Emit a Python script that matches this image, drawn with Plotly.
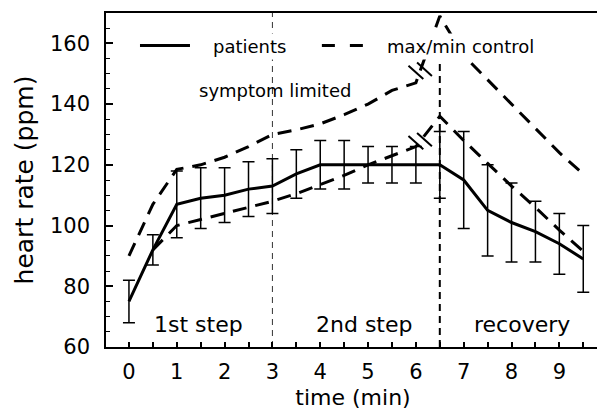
import numpy as np
import plotly.graph_objects as go

# ---- data ----
time_min = [0, 0.5, 1, 1.5, 2, 2.5, 3, 3.5, 4, 4.5, 5, 5.5, 6, 6.5, 7, 7.5, 8, 8.5, 9, 9.5]
patients_hr = [75, 92, 107, 109, 110, 112, 113, 117, 120, 120, 120, 120, 120, 120, 115, 105, 101, 98, 94, 89]
patients_sd = [7, 5, 11, 10, 9, 9, 9, 8, 8, 8, 6, 6, 6, 11, 16, 15, 13, 10, 10, 11]

max_time = [0, 0.5, 1, 1.5, 2, 2.5, 3, 3.5, 4, 4.5, 5, 5.5, 6, 6.5, 7, 7.5, 8, 8.5, 9, 9.5]
max_control = [90, 107, 118.5, 120, 122.5, 126, 130, 131.5, 133.5, 136.5, 140, 144.5, 147, 169, 156, 148, 140, 132, 124, 117]

min_time = [0.5, 1, 1.5, 2, 2.5, 3, 3.5, 4, 4.5, 5, 5.5, 6, 6.5, 7, 7.5, 8, 8.5, 9, 9.5]
min_control = [92, 100, 102, 104, 106, 108, 110.5, 113.5, 116.5, 120, 123, 126, 136, 128, 120.5, 113, 106, 98.5, 91.5]

phase_labels = ["1st step", "2nd step", "recovery"]
phase_centers = [1.45, 4.92, 8.21]
phase_bounds = [3, 6.5]
break_time = 6.09

x_ticks = list(range(0, 10))
y_ticks = [60, 80, 100, 120, 140, 160]

FONT = "DejaVu Sans"
DASH = "14px,9px"

fig = go.Figure()

fig.add_trace(go.Scatter(
    x=max_time, y=max_control, mode="lines", name="max control",
    line=dict(color="black", width=3, dash=DASH), showlegend=False))
fig.add_trace(go.Scatter(
    x=min_time, y=min_control, mode="lines", name="min control",
    line=dict(color="black", width=3, dash=DASH), showlegend=False))
fig.add_trace(go.Scatter(
    x=time_min, y=patients_hr, mode="lines", name="patients",
    line=dict(color="black", width=3),
    error_y=dict(type="data", array=patients_sd, visible=True,
                 color="black", thickness=1.5, width=6),
    showlegend=False))

shapes = []
# phase boundaries
shapes.append(dict(type="line", xref="x", yref="y", x0=phase_bounds[0], x1=phase_bounds[0],
                   y0=60, y1=170, line=dict(color="#333333", width=1, dash="6px,5px"), layer="below"))
shapes.append(dict(type="line", xref="x", yref="y", x0=phase_bounds[1], x1=phase_bounds[1],
                   y0=60, y1=154, line=dict(color="black", width=2, dash="7px,5px"), layer="below"))

# axis-break marks on the control lines (two parallel strokes)
for xs, ys in [(min_time, min_control), (max_time, max_control)]:
    yc = float(np.interp(break_time, xs, ys))
    for s in (-1, 1):
        cx = break_time + s * 0.09
        cy = yc + s * 0.5
        shapes.append(dict(type="line", xref="x", yref="y",
                           x0=cx - 0.155, x1=cx + 0.155,
                           y0=cy + 2.2, y1=cy - 2.2,
                           line=dict(color="black", width=2), layer="above"))

annotations = []
# legend (drawn manually with white background)
annotations.append(dict(xref="paper", yref="paper", x=0.2895, y=0.900, text="patients",
                        xanchor="center", yanchor="middle",
                        showarrow=False, font=dict(family=FONT, size=18, color="black"),
                        bgcolor="white", borderpad=2))
annotations.append(dict(xref="paper", yref="paper", x=0.7166, y=0.900, text="max/min control",
                        xanchor="center", yanchor="middle",
                        showarrow=False, font=dict(family=FONT, size=18, color="black"),
                        bgcolor="white", borderpad=2))
shapes.append(dict(type="line", xref="paper", yref="paper", x0=0.0688, x1=0.170, y0=0.903, y1=0.903,
                   line=dict(color="black", width=3), layer="above"))
shapes.append(dict(type="line", xref="paper", yref="paper", x0=0.437, x1=0.520, y0=0.903, y1=0.903,
                   line=dict(color="black", width=3, dash="13px,15px"), layer="above"))

annotations.append(dict(xref="x", yref="y", x=3.05, y=144.5, text="symptom limited",
                        xanchor="center", yanchor="middle",
                        showarrow=False, font=dict(family=FONT, size=18, color="black")))
for lab, xc in zip(phase_labels, phase_centers):
    annotations.append(dict(xref="x", yref="y", x=xc, y=67.5, text=lab, showarrow=False,
                            xanchor="center", yanchor="middle",
                            font=dict(family=FONT, size=22, color="black")))

# the page body keeps the browser's default 8px margin, so the figure is
# sized 8px smaller to fill the 605x415 window exactly
fig.update_layout(
    width=597, height=407,
    margin=dict(l=98, r=5, t=5, b=68),
    paper_bgcolor="white", plot_bgcolor="white",
    shapes=shapes, annotations=annotations,
    font=dict(family=FONT, color="black"),
    xaxis=dict(range=[-0.48, 9.85], tickvals=x_ticks, ticks="inside", ticklen=5,
               tickwidth=1.5, tickcolor="black", automargin=False,
               minor=dict(dtick=0.5, tick0=0, ticks="inside", ticklen=5, tickwidth=1.5, tickcolor="black"),
               showline=True, linecolor="black", linewidth=1.5, mirror=True,
               showgrid=False, zeroline=False,
               tickfont=dict(family=FONT, size=21, color="black"), ticklabelstandoff=5,
               title=dict(text="time (min)", font=dict(family=FONT, size=22, color="black"), standoff=7)),
    yaxis=dict(range=[60, 170], tickvals=y_ticks, ticks="inside", ticklen=7,
               tickwidth=1.5, tickcolor="black", automargin=False,
               minor=dict(dtick=5, tick0=60, ticks="inside", ticklen=4, tickwidth=1.2, tickcolor="black"),
               showline=True, linecolor="black", linewidth=1.5,
               showgrid=False, zeroline=False,
               tickfont=dict(family=FONT, size=21, color="black"), ticklabelstandoff=10,
               title=dict(text="heart rate (ppm)", font=dict(family=FONT, size=25, color="black"), standoff=9)),
)

fig.write_html("out.html")
